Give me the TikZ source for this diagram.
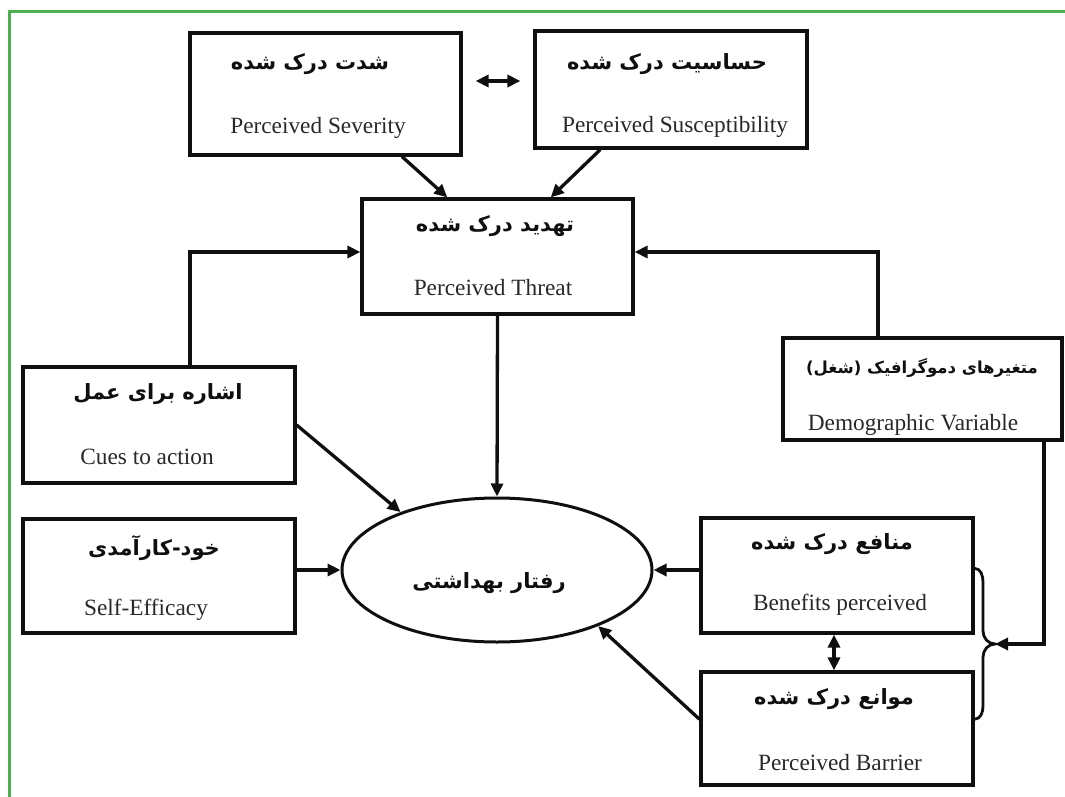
\documentclass[tikz,border=0pt]{standalone}
\usepackage{fontspec}
\setmainfont{Liberation Serif}
\newfontfamily\fa[Script=Arabic]{DejaVu Sans}
\usetikzlibrary{arrows.meta,shapes.geometric,calc}
\TeXXeTstate=1
\definecolor{frame}{RGB}{76,176,80}
\definecolor{ink}{RGB}{15,15,15}
\definecolor{entext}{RGB}{40,40,40}
\begin{document}
\begin{tikzpicture}[x=1pt,y=-1pt,
  box/.style={draw=ink,line width=3.2pt,inner sep=0pt,minimum width=#1},
  fa/.style={font=\fa\bfseries\fontsize{21}{25}\selectfont,text=ink,inner sep=0pt},
  en/.style={font=\fontsize{23.3}{27}\selectfont,text=entext,inner sep=0pt},
  arr/.style={draw=ink,line width=3.3pt,-{Triangle[length=13pt,width=12pt]}},
  darr/.style={draw=ink,line width=3.3pt,{Triangle[length=13pt,width=12pt]}-{Triangle[length=13pt,width=12pt]}}]
\useasboundingbox (0,0) rectangle (1065,797);
\draw[frame,line width=3pt] (9,797) -- (9,12) -- (1065,12);

% boxes
\node[box=271pt,minimum height=122pt] (sev) at (325.5,94) {};
\node[box=272pt,minimum height=117pt] (sus) at (671,89.5) {};
\node[box=271pt,minimum height=115pt] (thr) at (497.5,256.5) {};
\node[box=272pt,minimum height=116pt] (cue) at (159,425) {};
\node[box=279pt,minimum height=102pt] (dem) at (922.5,389) {};
\node[box=272pt,minimum height=114pt] (slf) at (159,576) {};
\node[box=272pt,minimum height=115pt] (ben) at (837,575.5) {};
\node[box=272pt,minimum height=113pt] (bar) at (837,728.5) {};
\node[draw=ink,line width=3pt,ellipse,inner sep=0pt,minimum width=310pt,minimum height=144pt] (beh) at (497,570) {};

% texts
\node[fa] (sevfa) at (310,64) {\beginR شدت درک شده\endR};
\node[en] (seven) at (318,128) {Perceived Severity};
\node[fa] (susfa) at (667,64) {\beginR حساسیت درک شده\endR};
\node[en] (susen) at (675,127) {Perceived Susceptibility};
\node[fa] (thrfa) at (495,226) {\beginR تهدید درک شده\endR};
\node[en] (thren) at (493,288) {Perceived Threat};
\node[fa] (cuefa) at (158,394) {\beginR اشاره برای عمل\endR};
\node[en] (cueen) at (147,457) {Cues to action};
\node[fa,font=\fa\bfseries\fontsize{16.5}{20}\selectfont] (demfa) at (922,368) {\beginR متغیرهای دموگرافیک (شغل)\endR};
\node[en] (demen) at (913,425) {Demographic Variable};
\node[fa] (slffa) at (154,548) {\beginR خود-کارآمدی\endR};
\node[en] (slfen) at (146,610) {Self-Efficacy};
\node[fa] (benfa) at (832,544) {\beginR منافع درک شده\endR};
\node[en] (benen) at (840,605) {Benefits perceived};
\node[fa] (barfa) at (834,699) {\beginR موانع درک شده\endR};
\node[en] (baren) at (840,763) {Perceived Barrier};
\node[fa] (behfa) at (489,583) {\beginR رفتار بهداشتی\endR};

% helper coordinates
\coordinate (y81) at (0,81);
\coordinate (y252) at (0,252);
\coordinate (x834) at (834,0);
\coordinate (x190) at (190,0);
\coordinate (x878) at (878,0);
\coordinate (x1044) at (1044,0);
\coordinate (btip) at (995,644);

% connectors
\draw[darr,shorten <=13pt,shorten >=13pt] (sev.east |- y81) -- (sus.west |- y81);
\draw[arr] ($(sev.south west)!0.779!(sev.south east)$) -- ($(thr.north west)!0.317!(thr.north east)$);
\draw[arr] ($(sus.south west)!0.243!(sus.south east)$) -- ($(thr.north west)!0.694!(thr.north east)$);
\draw[arr] (cue.north -| x190) |- (thr.west |- y252);
\draw[arr] (dem.north -| x878) |- (thr.east |- y252);
\draw[arr] (thr.south) -- (beh.north);
\draw[arr] ($(cue.north east)!0.5!(cue.south east)$) -- (beh.149);
\draw[arr] (slf.east |- beh.west) -- (beh.west);
\draw[arr] (ben.west |- beh.east) -- (beh.east);
\draw[arr] ($(bar.north west)!0.42!(bar.south west)$) -- (beh.-29);
\draw[darr] (ben.south -| x834) -- (bar.north -| x834);
% brace
\draw[draw=ink,line width=2.8pt,line cap=round]
  ($(ben.north east)!0.44!(ben.south east)$) to[out=0,in=90] (983,582) -- (983,631) to[out=-90,in=180] (btip)
  to[out=180,in=90] (983,657) -- (983,706) to[out=-90,in=0] ($(bar.north east)!0.42!(bar.south east)$);
\draw[arr] (dem.south -| x1044) |- (btip);
\end{tikzpicture}
\end{document}
